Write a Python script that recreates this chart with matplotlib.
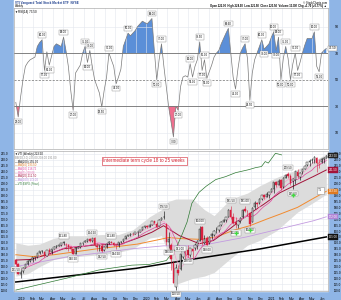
import pandas as pd
import matplotlib
matplotlib.use('Agg')
import matplotlib.pyplot as plt
import matplotlib.dates as mdates
from matplotlib.patches import Rectangle
from matplotlib.ticker import FuncFormatter, MultipleLocator

plt.rcParams['font.family'] = ['Liberation Sans', 'DejaVu Sans']

# ---- weekly VTI candles, first week ending 2018-12-14 ----
first_week = '2018-12-14'
opens = [135.5, 132.5, 123.5, 126.0, 129.0, 132.0, 135.0, 135.5, 138.0, 138.0,
         141.2, 143.0, 142.5, 139.0, 144.0, 142.0, 145.0, 146.8, 147.5, 148.0,
         149.5, 148.0, 148.5, 146.5, 144.5, 141.0, 146.0, 146.5, 149.5, 151.0,
         152.0, 153.0, 151.5, 154.0, 147.0, 147.0, 147.5, 144.0, 146.5, 149.5,
         151.0, 150.0, 148.0, 148.0, 150.5, 151.5, 153.5, 156.0, 156.5, 157.8,
         157.5, 159.0, 159.5, 160.5, 163.0, 164.0, 163.5, 165.0, 168.2, 166.0,
         164.0, 169.0, 171.5, 166.0, 151.0, 148.0, 133.0, 113.0, 127.0, 128.0,
         138.0, 142.0, 144.0, 140.0, 145.0, 145.5, 147.5, 152.0, 163.0, 150.0,
         154.0, 149.5, 155.5, 157.0, 160.5, 161.0, 165.0, 168.0, 169.5, 172.0,
         178.0, 172.0, 168.0, 165.0, 168.5, 171.5, 178.5, 177.0, 175.0, 168.0,
         180.0, 183.5, 183.5, 187.0, 190.0, 189.0, 190.5, 193.0, 195.5, 201.0,
         199.0, 203.0, 197.0, 205.0, 208.0, 206.5, 202.0, 203.0, 210.0, 205.5,
         209.5, 212.5, 215.5, 218.0, 219.5, 219.5, 222.0, 216.5, 218.0, 220.5,
         222.0]
highs = [136.5, 133.0, 127.0, 129.5, 132.5, 135.5, 136.0, 138.5, 138.5, 141.5,
         143.0, 144.0, 143.0, 144.0, 145.5, 145.0, 147.0, 148.0, 148.5, 149.8,
         151.8, 149.5, 149.0, 147.0, 145.0, 146.5, 147.5, 150.0, 150.5, 152.5,
         153.5, 154.0, 154.5, 155.0, 149.5, 148.5, 149.0, 147.0, 149.5, 151.5,
         151.8, 151.0, 148.5, 151.0, 152.0, 153.5, 156.0, 157.0, 158.0, 158.5,
         159.5, 159.8, 161.0, 163.0, 164.5, 165.0, 165.5, 168.5, 168.5, 168.0,
         170.0, 171.5, 176.5, 167.0, 159.0, 150.0, 135.0, 132.0, 131.0, 141.0,
         144.5, 144.5, 148.0, 146.0, 146.0, 149.5, 152.5, 164.0, 164.0, 156.5,
         155.5, 156.0, 158.0, 161.0, 163.0, 165.0, 168.5, 170.0, 172.0, 178.5,
         181.5, 175.0, 171.5, 169.0, 172.0, 178.5, 181.0, 178.0, 175.5, 180.0,
         185.5, 184.5, 187.5, 190.5, 191.0, 192.5, 193.0, 196.0, 201.5, 202.5,
         203.5, 204.0, 205.5, 208.0, 209.5, 208.0, 205.0, 211.0, 212.0, 209.5,
         212.5, 215.5, 218.5, 220.5, 221.5, 223.0, 222.5, 220.5, 221.5, 222.5,
         224.0]
lows = [131.5, 123.5, 120.5, 124.5, 128.5, 131.0, 133.5, 134.0, 135.5, 137.5,
        140.5, 141.5, 138.5, 139.0, 141.5, 141.0, 144.5, 146.0, 147.0, 147.5,
        148.5, 144.5, 143.5, 143.5, 140.5, 140.8, 145.5, 146.0, 148.5, 150.5,
        151.0, 151.0, 151.0, 147.0, 143.5, 143.0, 142.5, 143.5, 146.0, 149.0,
        149.5, 147.5, 144.5, 146.5, 150.0, 151.0, 153.0, 155.5, 156.0, 156.5,
        157.5, 156.0, 159.0, 160.5, 162.5, 162.5, 163.0, 165.0, 165.5, 162.5,
        164.0, 169.0, 170.5, 148.0, 146.0, 127.0, 116.0, 110.5, 123.0, 127.5,
        135.0, 136.5, 138.5, 138.5, 137.5, 144.0, 145.0, 151.5, 148.5, 149.0,
        148.0, 149.0, 153.0, 156.0, 158.5, 159.0, 164.5, 167.5, 168.0, 171.5,
        170.5, 166.0, 162.5, 162.5, 167.0, 171.0, 176.0, 173.0, 164.5, 167.5,
        178.5, 180.5, 183.0, 186.0, 187.0, 188.5, 188.0, 192.5, 192.0, 197.5,
        198.5, 195.0, 196.5, 204.5, 205.0, 198.5, 195.5, 200.0, 205.0, 203.0,
        208.5, 212.0, 214.5, 215.0, 217.5, 217.0, 210.0, 213.5, 217.5, 217.5,
        221.5]
closes = [132.0, 124.0, 126.5, 129.0, 132.0, 135.0, 135.5, 137.8, 138.0, 141.2,
          142.8, 142.8, 139.0, 143.8, 142.0, 144.5, 146.8, 147.5, 148.0, 149.5,
          151.0, 148.5, 146.5, 144.5, 140.8, 146.0, 146.5, 149.5, 150.0, 152.0,
          153.0, 151.5, 153.8, 148.0, 146.8, 147.0, 143.0, 146.5, 149.0, 151.0,
          150.0, 148.5, 148.0, 150.5, 151.0, 153.2, 155.5, 156.5, 157.8, 157.5,
          159.3, 159.5, 160.5, 163.0, 164.0, 163.5, 165.0, 168.2, 166.5, 163.0,
          169.0, 171.2, 172.0, 151.0, 153.0, 136.0, 116.5, 128.5, 125.0, 140.5,
          144.0, 142.5, 139.5, 145.5, 143.5, 148.0, 152.0, 161.5, 152.5, 153.5,
          148.5, 155.0, 157.5, 160.0, 160.5, 164.5, 168.0, 169.0, 171.5, 178.0,
          172.0, 167.0, 166.0, 168.5, 171.0, 178.0, 177.0, 176.5, 166.0, 179.5,
          183.5, 182.5, 187.0, 190.0, 188.5, 191.5, 192.5, 195.5, 201.0, 198.5,
          202.5, 196.0, 205.0, 207.5, 206.0, 200.5, 203.5, 210.5, 206.5, 209.0,
          212.0, 215.0, 218.0, 219.0, 219.5, 222.5, 217.5, 217.0, 220.5, 221.8,
          223.5]

# weekly RSI(14)
rsi = [33, 22, 37, 50, 60, 63, 65, 66, 67, 75, 78, 80, 57, 71, 61, 68, 75, 77, 76, 75,
       82, 72, 60, 42, 27, 55, 58, 61, 70, 75, 63, 72, 60, 50, 45, 40, 29.5, 42, 52, 70,
       65, 60, 47, 52, 58, 75, 80, 85, 83, 85, 87, 90, 92, 94, 93, 92, 94, 96, 72, 50,
       65, 77, 60, 45, 29.5, 18, 7, 30, 27, 45, 52, 53, 52, 62, 52, 60, 65, 78.5, 57, 65,
       51, 56, 61, 67, 70, 72, 77, 81, 85, 88.6, 70, 52, 43, 58, 70, 74, 77, 66, 34.5, 55,
       65, 70, 75, 80, 73, 75, 77, 82, 86, 72, 82, 50, 66, 75, 66, 50, 62, 70, 57, 63,
       70, 76, 81, 81, 81, 86, 60, 56, 70, 72, 73.5]
rsi_peaks = [11, 20, 29, 31, 39, 47, 57, 61, 73, 77, 79, 89, 96, 103, 108, 110, 113, 117, 125]
rsi_troughs = [1, 12, 14, 24, 30, 36, 42, 59, 66, 68, 74, 78, 80, 92, 98, 104, 109, 111, 115, 118, 127]

# overlays (sampled off the chart)
band_dates = ['2018-12-14', '2019-01-18', '2019-02-22', '2019-04-05', '2019-05-17', '2019-07-05',
              '2019-08-23', '2019-10-11', '2019-11-22', '2020-01-10', '2020-02-14', '2020-03-06',
              '2020-03-27', '2020-05-15', '2020-06-19', '2020-07-17', '2020-09-04', '2020-10-23',
              '2020-11-27', '2021-01-15', '2021-03-19', '2021-04-23', '2021-06-11']
band_upper = [150, 148, 149, 154, 156, 156, 157, 157, 161, 172, 178, 185, 187, 187, 178, 173,
              187, 192, 198, 205, 212, 217, 225]
band_lower = [122, 124, 130, 136, 138, 139, 140, 142, 145, 154, 156, 140, 115, 120, 122, 125,
              137, 148, 152, 160, 176, 182, 191]

ma20_dates = ['2018-12-14', '2019-01-25', '2019-03-15', '2019-05-03', '2019-06-14', '2019-07-26',
              '2019-09-06', '2019-10-18', '2019-12-06', '2020-01-17', '2020-02-20', '2020-04-07',
              '2020-06-04', '2020-07-15', '2020-09-01', '2020-10-20', '2020-12-10', '2021-01-26',
              '2021-03-16', '2021-05-05', '2021-06-11']
ma20 = [135.5, 136, 140, 145, 146.5, 148, 148.5, 149, 154, 159, 164.5, 156, 149.3, 152, 161.8,
        172.8, 182.6, 192.3, 199.2, 206.1, 211.5]

ma40_dates = ['2018-12-14', '2019-02-01', '2019-04-05', '2019-06-07', '2019-08-09', '2019-10-11',
              '2019-12-06', '2020-01-17', '2020-03-06', '2020-04-17', '2020-06-05', '2020-07-24',
              '2020-09-11', '2020-10-30', '2020-12-18', '2021-01-29', '2021-03-19', '2021-05-07',
              '2021-06-11']
ma40 = [140, 138.5, 140, 142.5, 145, 147, 149, 151.5, 154.5, 153.5, 153, 155, 160.5, 164.5,
        170, 174.5, 180, 188, 193.5]

ma100_dates = ['2018-12-14', '2019-05-10', '2019-11-19', '2020-02-20', '2020-06-04', '2020-10-20',
               '2021-01-26', '2021-05-05', '2021-06-11']
ma100 = [130, 138, 145, 147.5, 147.5, 155, 161.8, 168.7, 172]

ma200_dates = ['2018-12-14', '2019-06-01', '2019-12-01', '2020-06-01', '2020-12-01', '2021-06-11']
ma200 = [117, 122.5, 128.5, 137, 145, 155]

rel_dates = ['2018-12-14', '2019-02-01', '2019-05-10', '2019-08-14', '2019-11-19', '2020-01-09',
             '2020-02-28', '2020-03-27', '2020-04-14', '2020-04-29', '2020-05-13', '2020-06-03',
             '2020-06-24', '2020-07-22', '2020-08-20', '2020-09-18', '2020-10-26', '2020-11-15',
             '2020-12-03', '2020-12-14', '2020-12-23', '2021-01-13', '2021-01-31']
rel_line = [110.2, 113.5, 120.1, 127.1, 131.2, 131.8, 135.1, 145.1, 156.8, 167.6, 183.4, 192.6,
            197.8, 203.4, 205.9, 209.2, 211.7, 213.4, 214.4, 218.6, 217.3, 225.6, 224.2]

price_peaks = [20, 32, 40, 62, 69, 77, 90, 96, 114]
price_troughs = [0, 24, 36, 42, 64, 67, 72, 80, 92, 98, 116]
signal_weeks = [92, 98, 116]
signal_prices = [158.5, 161.0, 190.0]

# ---- derived ----
weeks = pd.date_range(first_week, periods=len(closes), freq='7D')
x = mdates.date2num(weeks.to_pydatetime())
dnum = lambda ds: mdates.date2num(pd.to_datetime(ds).to_pydatetime())
ma5 = pd.Series(closes).rolling(5, min_periods=1).mean()
ma10 = pd.Series(closes).rolling(10, min_periods=1).mean()

blue_bg = '#8fb5e6'
grid_c = '#e3e7ee'
W = 314  # plot width in px
fig = plt.figure(figsize=(3.41, 3.0), dpi=100, facecolor=blue_bg)
fig.patches.append(Rectangle((14 / 341, 9 / 300), W / 341, 291 / 300,
                             transform=fig.transFigure, color='white', zorder=-10))

x0 = mdates.date2num(pd.Timestamp('2019-01-01')) - 23.3
x1 = mdates.date2num(pd.Timestamp('2021-01-01')) + 166

# ---- top panel: RSI ----
ax1 = fig.add_axes([14 / 341, 1 - 148.5 / 300, W / 341, 141 / 300])
ax1.set_zorder(2)
ax1.set_xlim(x0, x1)
ax1.set_ylim(-1.7, 104.3)
ax1.xaxis.set_major_locator(mdates.MonthLocator())
ax1.grid(True, axis='x', color=grid_c, lw=0.4)
for lev in [10, 90]:
    ax1.axhline(lev, color=grid_c, lw=0.4)
ax1.axhline(70, color='#6e6e6e', lw=0.6)
ax1.axhline(50, color='#6e6e6e', lw=0.5, ls=(0, (3, 2)))
ax1.axhline(30, color='#6e6e6e', lw=0.6)
r = pd.Series(rsi).values
ax1.fill_between(x, r, 70, where=r >= 70, interpolate=True, color='#5b8fd8', lw=0)
ax1.fill_between(x, r, 30, where=r <= 30, interpolate=True, color='#ef6f8f', lw=0)
ax1.plot(x, r, color='#7a7a7a', lw=0.5)
box = dict(boxstyle='square,pad=0.25', fc='white', ec='#8a8a8a', lw=0.3)
for i in rsi_peaks:
    ax1.annotate(f'{rsi[i]:.2f}', (x[i], rsi[i]), xytext=(0, 2), textcoords='offset points',
                 ha='center', va='bottom', fontsize=2, bbox=box)
for i in rsi_troughs:
    ax1.annotate(f'{rsi[i]:.2f}', (x[i], rsi[i]), xytext=(0, -2), textcoords='offset points',
                 ha='center', va='top', fontsize=2, bbox=box)
ax1.set_yticks([10, 30, 50, 70, 90])
ax1.tick_params(axis='y', left=False, labelleft=False, right=False, labelright=True,
                labelsize=2.6, pad=1.5)
ax1.tick_params(axis='x', bottom=False, labelbottom=False)
ax1.annotate(f'{rsi[-1]:.2f}', (1.0, rsi[-1]), xycoords=ax1.get_yaxis_transform(),
             xytext=(0.5, 0), textcoords='offset points', ha='left', va='center', fontsize=2.2,
             bbox=dict(boxstyle='square,pad=0.2', fc='white', ec='#7a7a7a', lw=0.3))
ax1.text(0.003, 0.985, '\u25bcRSI(14) 73.50', transform=ax1.transAxes, fontsize=2.2,
         va='top', ha='left')
for s in ax1.spines.values():
    s.set_color('#9a9a9a')
    s.set_linewidth(0.4)

# header rows
fig.text(15 / 341, 1 - 2.6 / 300, 'VTI Vanguard Total Stock Market ETF  NYSE', fontsize=2.2,
         color='#1a3c8c', va='center', weight='bold')
fig.text(15 / 341, 1 - 5.6 / 300, 'Weekly', fontsize=2.0, va='center')
fig.text((13 + W) / 341, 1 - 2.6 / 300, '\u00a9 StockCharts.com', fontsize=2.0, va='center', ha='right')
fig.text((13 + W) / 341, 1 - 5.6 / 300,
         'Open 222.00  High 224.00  Low 221.50  Close 223.50  Volume 13.0M  Chg +1.70 (+0.77%) \u25b2',
         fontsize=2.0, va='center', ha='right', weight='bold')

# ---- bottom panel: price ----
ax2 = fig.add_axes([14 / 341, 9 / 300, W / 341, 140 / 300])
ax2.set_zorder(2)
ax2.set_xlim(x0, x1)
ax2.set_ylim(109.4, 227.5)
ax2.xaxis.set_major_locator(mdates.MonthLocator())
ax2.xaxis.set_major_formatter(FuncFormatter(
    lambda v, p: mdates.num2date(v).strftime('%Y' if mdates.num2date(v).month == 1 else '%b')))
ax2.yaxis.set_major_locator(MultipleLocator(5))
ax2.yaxis.set_major_formatter(FuncFormatter(lambda v, p: f'{v:.1f}'))
ax2.grid(True, color=grid_c, lw=0.4)
ax2.set_axisbelow(True)
ax2.tick_params(axis='y', left=False, right=False, labelleft=True, labelright=True,
                labelsize=2.2, pad=0.6)
ax2.tick_params(axis='x', bottom=False, labelsize=2.4, pad=0.8)

ax2.fill_between(dnum(band_dates), band_upper, band_lower, color='#dcdcdc', lw=0, zorder=1)
ax2.plot(dnum(ma200_dates), ma200, color='black', lw=1.1, zorder=2)
ax2.plot(dnum(ma100_dates), ma100, color='#c39be0', lw=0.6, zorder=2)
ax2.plot(dnum(ma40_dates), ma40, color='#f28a2e', lw=0.7, zorder=2)
ax2.plot(dnum(ma20_dates), ma20, color='#a3123a', lw=0.7, zorder=2)
ax2.plot(x, ma10, color='#e0479e', lw=0.5, zorder=2)
ax2.plot(x, ma5, color='#f7a1cc', lw=0.5, zorder=2)
ax2.plot(dnum(rel_dates), rel_line, color='#2f7a34', lw=0.5, zorder=2)

# candles
for i in range(len(closes)):
    prev = closes[i - 1] if i > 0 else opens[i]
    col = '#d8203f' if closes[i] < prev else 'black'
    face = 'white' if closes[i] > opens[i] else col
    ax2.vlines(x[i], lows[i], highs[i], color=col, lw=0.4, zorder=3)
    ax2.bar(x[i], max(abs(closes[i] - opens[i]), 0.3), bottom=min(opens[i], closes[i]),
            width=4.3, color=face, edgecolor=col, lw=0.3, zorder=4)

pbox = dict(boxstyle='square,pad=0.25', fc='white', ec='#8a8a8a', lw=0.3)
for i in price_peaks:
    ax2.annotate(f'{highs[i]:.2f}', (x[i], highs[i]), xytext=(0, 2), textcoords='offset points',
                 ha='center', va='bottom', fontsize=2, bbox=pbox, zorder=6)
for i in price_troughs:
    ax2.annotate(f'{lows[i]:.2f}', (x[i], lows[i]), xytext=(0, -2), textcoords='offset points',
                 ha='center', va='top', fontsize=2, bbox=pbox, zorder=6)
ax2.plot([x[i] for i in signal_weeks], signal_prices, 'P', color='#3ddc3d', ms=3, mew=0, zorder=6)

ax2.text(0.285, 0.93, 'Intermediate term cycle 18 to 25 weeks', transform=ax2.transAxes,
         fontsize=3.3, color='#d2202f', va='center', ha='left',
         bbox=dict(boxstyle='square,pad=0.35', fc='white', ec='#d2202f', lw=0.4), zorder=7)
ax2.text(0.975, 0.72, 'T1', transform=ax2.transAxes, fontsize=2.6, color='#444444',
         va='center', ha='center',
         bbox=dict(boxstyle='square,pad=0.4', fc='white', ec='#9a9a9a', lw=0.4), zorder=7)

legend_rows = [('\u25bcVTI (Weekly) 223.50', 'black'),
               ('BB(20,2.0) 225.00 208.00 191.00', '#8a8a8a'),
               ('\u2014MA(200) 155.00', 'black'),
               ('\u2014MA(40) 193.50', '#e07a20'),
               ('\u2014MA(10) 218.72', '#e0479e'),
               ('\u2014MA(5) 220.06', '#e86fb0'),
               ('\u2014MA(20) 211.50', '#a3123a'),
               ('\u2014MA(100) 172.00', '#b084d6'),
               ('\u2014VTI:$SPX (Price)', '#2f7a34')]
for k, (txt, c) in enumerate(legend_rows):
    ax2.text(0.004, 0.99 - k * 0.026, txt, transform=ax2.transAxes, fontsize=2.0, color=c,
             va='top', ha='left', zorder=7)

for val, c in [(closes[-1], '#222222'), (ma20[-1], '#a3123a'), (ma40[-1], '#e07a20'),
               (ma100[-1], '#b084d6'), (ma200[-1], '#111111')]:
    ax2.annotate(f'{val:.2f}', (1.0, val), xycoords=ax2.get_yaxis_transform(),
                 xytext=(0.3, 0), textcoords='offset points', ha='left', va='center',
                 fontsize=2.1, color='white', zorder=8, annotation_clip=False,
                 bbox=dict(boxstyle='square,pad=0.2', fc=c, ec=c, lw=0.3))
for s in ax2.spines.values():
    s.set_color('#9a9a9a')
    s.set_linewidth(0.4)

fig.savefig('out.png', dpi=100)
